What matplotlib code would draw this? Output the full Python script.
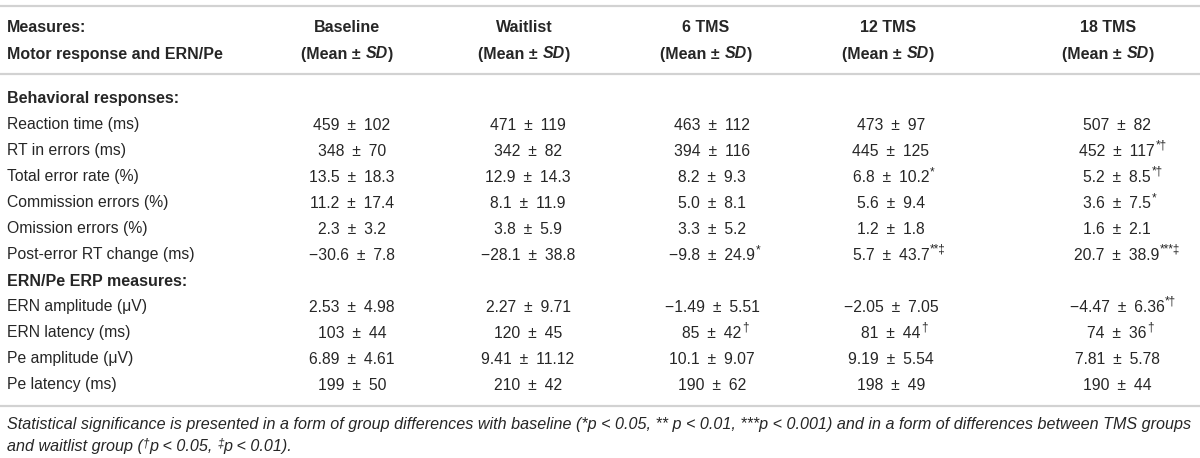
import matplotlib
matplotlib.use("Agg")
import matplotlib.pyplot as plt

plt.rcParams['font.family'] = ['Liberation Sans', 'DejaVu Sans']

# table content
groups = ["Baseline", "Waitlist", "6 TMS", "12 TMS", "18 TMS"]

section_1 = "Behavioral responses:"
labels_1 = ["Reaction time (ms)", "RT in errors (ms)", "Total error rate (%)",
            "Commission errors (%)", "Omission errors (%)", "Post-error RT change (ms)"]
section_2 = "ERN/Pe ERP measures:"
labels_2 = ["ERN amplitude (\u03bcV)", "ERN latency (ms)", "Pe amplitude (\u03bcV)", "Pe latency (ms)"]

# means / SDs per group (kept as printed strings)
mean_baseline = ["459", "348", "13.5", "11.2", "2.3", "\u221230.6", "2.53", "103", "6.89", "199"]
sd_baseline = ["102", "70", "18.3", "17.4", "3.2", "7.8", "4.98", "44", "4.61", "50"]
mean_waitlist = ["471", "342", "12.9", "8.1", "3.8", "\u221228.1", "2.27", "120", "9.41", "210"]
sd_waitlist = ["119", "82", "14.3", "11.9", "5.9", "38.8", "9.71", "45", "11.12", "42"]
mean_tms6 = ["463", "394", "8.2", "5.0", "3.3", "\u22129.8", "\u22121.49", "85", "10.1", "190"]
sd_tms6 = ["112", "116", "9.3", "8.1", "5.2", "24.9", "5.51", "42", "9.07", "62"]
mean_tms12 = ["473", "445", "6.8", "5.6", "1.2", "5.7", "\u22122.05", "81", "9.19", "198"]
sd_tms12 = ["97", "125", "10.2", "9.4", "1.8", "43.7", "7.05", "44", "5.54", "49"]
mean_tms18 = ["507", "452", "5.2", "3.6", "1.6", "20.7", "\u22124.47", "74", "7.81", "190"]
sd_tms18 = ["82", "117", "8.5", "7.5", "2.1", "38.9", "6.36", "36", "5.78", "44"]

sig_baseline = [""] * 10
sig_waitlist = [""] * 10
sig_tms6 = ["", "", "", "", "", "*", "", "\u2020", "", ""]
sig_tms12 = ["", "", "*", "", "", "**\u2021", "", "\u2020", "", ""]
sig_tms18 = ["", "*\u2020", "*\u2020", "*", "", "***\u2021", "*\u2020", "\u2020", "", ""]

means = [mean_baseline, mean_waitlist, mean_tms6, mean_tms12, mean_tms18]
sds = [sd_baseline, sd_waitlist, sd_tms6, sd_tms12, sd_tms18]
sigs = [sig_baseline, sig_waitlist, sig_tms6, sig_tms12, sig_tms18]

note_1 = ("Statistical significance is presented in a form of group differences with baseline "
          "(*p < 0.05, ** p < 0.01, ***p < 0.001) and in a form of differences between TMS groups")

TXT = "#262626"
RULE = "#d2d2d2"
FS = 11.3
FS_HEAD = 11.5
FS_NOTE = 11.6

fig = plt.figure(figsize=(12, 4.58), dpi=100)
ax = fig.add_axes([0, 0, 1, 1])
ax.set_xlim(0, 1200)
ax.set_ylim(458, 0)
ax.axis("off")
renderer = fig.canvas.get_renderer()


def width(t):
    return t.get_window_extent(renderer).width


def runs(x, y, parts, ha="left"):
    # parts: (text, text kwargs, dy)
    arts = []
    cx = x
    for s, kw, dy in parts:
        t = ax.text(cx, y + dy, s, va="center", ha="left", color=TXT, **kw)
        cx += width(t)
        arts.append(t)
    if ha == "center":
        shift = (cx - x) / 2
        for t in arts:
            px, py = t.get_position()
            t.set_position((px - shift, py))
    return arts


head_x = [347, 524, 706, 888, 1108]
val_x = [352, 528, 712, 891, 1117]
left = 7

# rules
for yy in [6, 74, 406]:
    ax.plot([0, 1200], [yy, yy], color=RULE, lw=1.6, solid_capstyle="butt")

# header
bold = {"fontsize": FS_HEAD, "fontweight": "bold"}
bold_it = {"fontsize": FS_HEAD, "fontweight": "bold", "style": "italic"}
ax.text(left, 27, "Measures:", color=TXT, va="center", **bold)
ax.text(left, 54, "Motor response and ERN/Pe", color=TXT, va="center", **bold)
for x, g in zip(head_x, groups):
    ax.text(x, 27, g, ha="center", va="center", color=TXT, **bold)
    runs(x, 54, [("(Mean \u00b1 ", bold, 0), ("SD", bold_it, 0), (")", bold, 0)], ha="center")

# body
row_y0 = 99
step = 26.0
body_rows = [(section_1, None)] + [(l, i) for i, l in enumerate(labels_1)] + \
            [(section_2, None)] + [(l, i + len(labels_1)) for i, l in enumerate(labels_2)]
for r, (lab, idx) in enumerate(body_rows):
    y = row_y0 + r * step
    if idx is None:
        ax.text(left, y, lab, color=TXT, va="center", **bold)
        continue
    ax.text(left, y, lab, fontsize=FS, color=TXT, va="center")
    for x, m, s, sg in zip(val_x, means, sds, sigs):
        t = ax.text(x, y, f"{m[idx]}\u2002\u00b1\u2002{s[idx]}", fontsize=FS,
                    ha="center", va="center", color=TXT)
        if sg[idx]:
            w = width(t)
            ax.text(x + w / 2 + 0.5, y - 5, sg[idx], fontsize=8.5, ha="left", va="center", color=TXT)

# footnote
it = {"fontsize": FS_NOTE, "style": "italic"}
it_sup = {"fontsize": 8.5, "style": "italic"}
ax.text(left, 424, note_1, color=TXT, va="center", **it)
runs(left, 447, [("and waitlist group (", it, 0), ("\u2020", it_sup, -4), ("p < 0.05, ", it, 0),
                 ("\u2021", it_sup, -4), ("p < 0.01).", it, 0)])

fig.savefig("out.png", dpi=100, facecolor="white")
